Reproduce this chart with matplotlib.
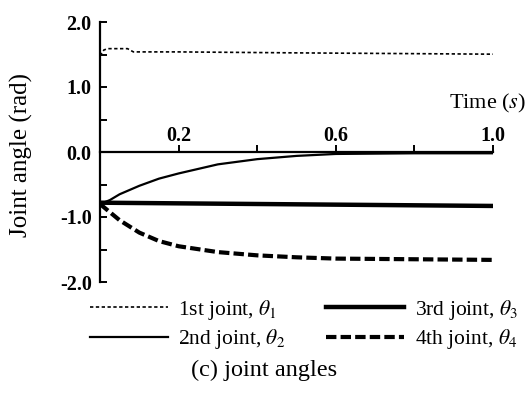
import numpy as np
import matplotlib
matplotlib.use("Agg")
import matplotlib.pyplot as plt
from matplotlib.ticker import FixedLocator, FuncFormatter

plt.rcParams['font.family'] = ['Liberation Serif', 'DejaVu Serif']
plt.rcParams['mathtext.fontset'] = 'stix'

# joint angle traces
t1 = [0.0, 0.01, 0.02, 0.07, 0.085, 0.2, 0.5, 1.0]
theta1 = [1.48, 1.57, 1.59, 1.59, 1.54, 1.54, 1.525, 1.505]

t2 = [0.0, 0.025, 0.05, 0.1, 0.15, 0.2, 0.3, 0.4, 0.5, 0.6, 0.8, 1.0]
theta2 = [-0.80, -0.74, -0.65, -0.52, -0.41, -0.33, -0.19, -0.11, -0.06, -0.03, -0.02, -0.02]

t3 = [0.0, 0.2, 0.4, 0.6, 0.8, 1.0]
theta3 = [-0.78, -0.79, -0.80, -0.81, -0.82, -0.83]

t4 = [0.0, 0.05, 0.1, 0.15, 0.2, 0.3, 0.4, 0.5, 0.6, 0.8, 1.0]
theta4 = [-0.80, -1.05, -1.24, -1.37, -1.45, -1.54, -1.59, -1.62, -1.64, -1.65, -1.66]

labels = ['1st joint, $\\theta_1$', '2nd joint, $\\theta_2$',
          '3rd joint, $\\theta_3$', '4th joint, $\\theta_4$']
xticks = [0.2, 0.4, 0.6, 0.8, 1.0]
xlabeled = [0.2, 0.6, 1.0]
yticks = [-2.0, -1.0, 0.0, 1.0, 2.0]
yminor = [-1.5, -0.5, 0.5, 1.5]

fig = plt.figure(figsize=(5.28, 3.99), dpi=100)
ax = fig.add_axes([100/528, 1-282/399, 393/528, 260/399])

l1, = ax.plot(t1, theta1, color='k', lw=1.2, linestyle=(0, (2, 1.5)))
l2, = ax.plot(t2, theta2, color='k', lw=1.6)
l3, = ax.plot(t3, theta3, color='k', lw=3.2)
l4, = ax.plot(t4, theta4, color='k', lw=3.0, linestyle=(0, (2.5, 1.0)))

ax.set_xlim(0, 1.0)
ax.set_ylim(-2.0, 2.0)

for s in ['top', 'right']:
    ax.spines[s].set_visible(False)
ax.spines['bottom'].set_position(('data', 0))
ax.spines['bottom'].set_linewidth(1.6)
ax.spines['left'].set_linewidth(1.6)

ax.xaxis.set_major_locator(FixedLocator(xticks))
ax.xaxis.set_major_formatter(FuncFormatter(
    lambda v, p: '%.1f' % v if any(abs(v - x) < 1e-6 for x in xlabeled) else ''))
ax.tick_params(axis='x', direction='in', length=5, width=1.4, pad=-19,
               labelsize=14.5)
ax.yaxis.set_major_locator(FixedLocator(yticks))
ax.yaxis.set_minor_locator(FixedLocator(yminor))
ax.yaxis.set_major_formatter(FuncFormatter(lambda v, p: '%.1f' % v))
ax.tick_params(axis='y', which='both', direction='in', length=5, width=1.4,
               pad=6, labelsize=14.5)
for lab in ax.get_xticklabels() + ax.get_yticklabels():
    lab.set_fontweight('bold')

ax.text(1.084, 0.75, 'Time ($s$)', ha='right', va='center', fontsize=16,
        clip_on=False)
ax.set_ylabel('Joint angle (rad)', fontsize=18)
ax.yaxis.set_label_coords(-0.17, 0.49)

fig.legend([l1, l2, l3, l4], labels, loc='upper left',
           bbox_to_anchor=(90/528, 1-298/399), ncol=2, frameon=False,
           fontsize=15.5, handlelength=3.6, handletextpad=0.5,
           columnspacing=1.9, labelspacing=0.25, borderpad=0,
           borderaxespad=0)

fig.text(264/528, 1-370/399, '(c) joint angles', ha='center', va='center',
         fontsize=17.5)

fig.savefig('out.png', dpi=100)
